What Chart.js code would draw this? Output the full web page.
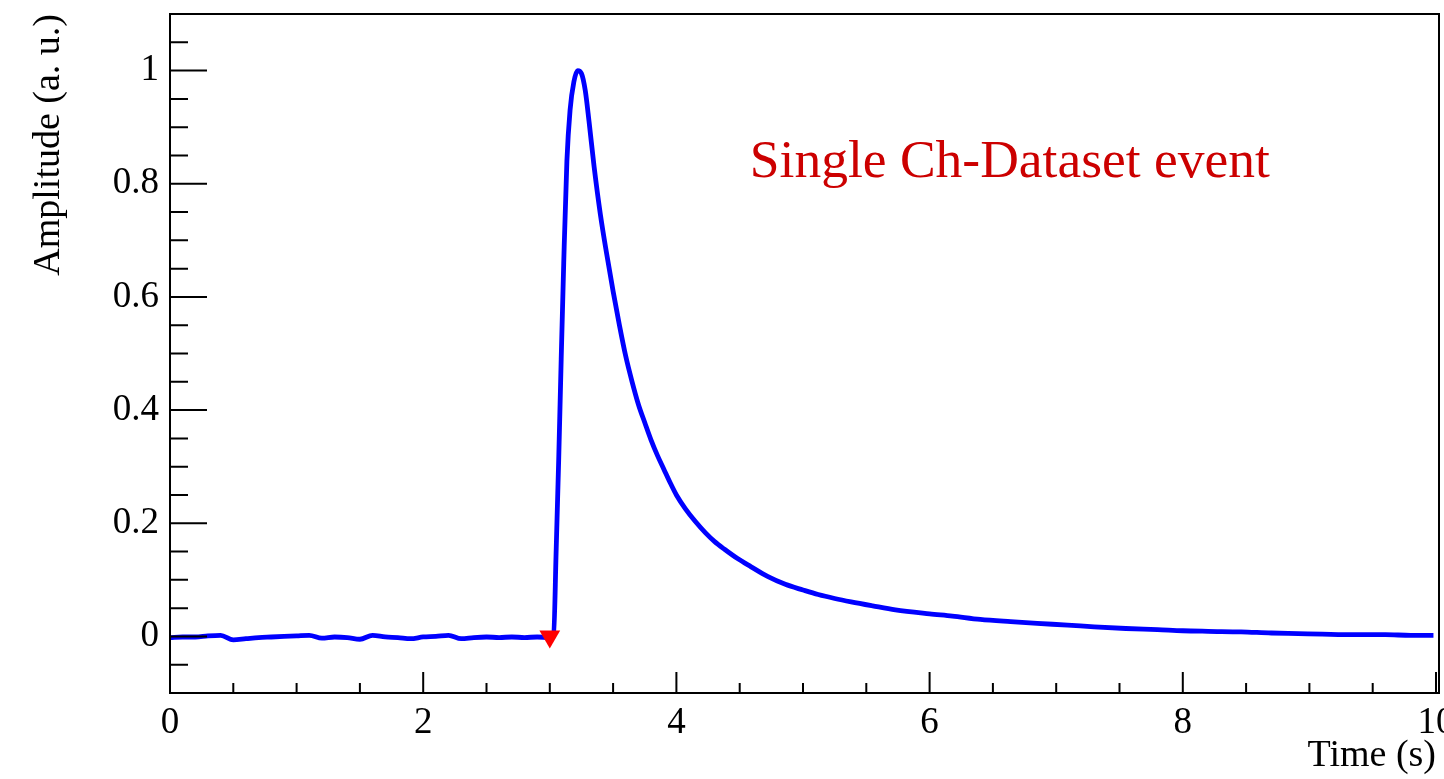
<!DOCTYPE html>
<html><head><meta charset="utf-8">
<script src="https://cdn.jsdelivr.net/npm/chart.js@4.4.1/dist/chart.umd.min.js"></script>
<style>html,body{margin:0;padding:0;background:#fff;overflow:hidden}#wrap{width:1444px;height:779px;position:relative}</style>
</head><body><div id="wrap"><canvas id="c" width="1444" height="779"></canvas></div>
<script>
// ---- data ----
const timeS = [0.0,0.1,0.2,0.3,0.4,0.5,0.6,0.7,0.8,0.9,1.0,1.1,1.2,1.3,1.4,1.5,1.6,1.7,1.8,1.9,2.0,2.1,2.2,2.3,2.4,2.5,2.6,2.7,2.8,2.9,3.0,3.03,
  3.05,3.07,3.09,3.11,3.135,3.16,3.19,3.22,3.25,3.28,3.31,3.35,3.40,3.45,3.50,3.55,3.60,3.65,3.70,3.75,3.80,3.85,3.90,3.95,4.00,
  4.07,4.15,4.23,4.30,4.38,4.48,4.59,4.72,4.86,5.00,5.12,5.25,5.38,5.55,5.73,
  6.0,6.18,6.4,6.64,6.85,7.09,7.3,7.55,7.8,8.0,8.2,8.46,8.7,8.91,9.1,9.36,9.6,9.8,9.98];
const amplitude = [-0.002,-0.001,-0.001,0.001,0.002,-0.006,-0.004,-0.002,-0.001,0.0,0.001,0.002,-0.003,-0.001,-0.002,-0.005,0.002,-0.001,-0.002,-0.004,-0.001,0.0,0.002,-0.004,-0.002,-0.001,-0.002,-0.001,-0.002,-0.001,-0.002,0.0,
  0.15,0.31,0.49,0.66,0.84,0.93,0.98,1.0,0.995,0.965,0.91,0.83,0.745,0.675,0.61,0.55,0.495,0.45,0.41,0.378,0.347,0.32,0.296,0.272,0.250,
  0.226,0.203,0.183,0.168,0.154,0.138,0.123,0.106,0.092,0.082,0.074,0.067,0.061,0.054,0.047,
  0.040,0.036,0.030,0.026,0.023,0.020,0.017,0.014,0.012,0.010,0.009,0.008,0.006,0.005,0.004,0.003,0.003,0.002,0.002];
const triggerTime = [3.0];
const triggerAmp = [0];
const xMajorTicks = [0,2,4,6,8,10];
const xMinorTicks = [0.5,1,1.5,2.5,3,3.5,4.5,5,5.5,6.5,7,7.5,8.5,9,9.5];
const yMajorTicks = [0,0.2,0.4,0.6,0.8,1.0];
const yMinorTicks = [-0.05,0.05,0.1,0.15,0.25,0.3,0.35,0.45,0.5,0.55,0.65,0.7,0.75,0.85,0.9,0.95,1.05];
const xTitle = 'Time (s)';
const yTitle = 'Amplitude (a. u.)';
const eventLabel = 'Single Ch-Dataset event';

const FONT = "'Liberation Serif','Times New Roman',serif";
const zeroPad = () => ({top: 0, left: 0, right: 0, bottom: 0});

const framePlugin = {
  id: 'rootFrame',
  afterDraw(chart) {
    const {ctx, chartArea: a, scales: {x, y}} = chart;
    ctx.save();
    ctx.strokeStyle = '#000';
    ctx.lineWidth = 2;
    ctx.beginPath();
    ctx.rect(a.left, a.top, a.right + 3 - a.left, a.bottom - a.top);
    ctx.stroke();
    ctx.beginPath();
    const xMaj = 21, xMin = 10, yMaj = 37, yMin = 18;
    xMajorTicks.forEach(v => { const p = x.getPixelForValue(v); ctx.moveTo(p, a.bottom); ctx.lineTo(p, a.bottom - xMaj); });
    xMinorTicks.forEach(v => { const p = x.getPixelForValue(v); ctx.moveTo(p, a.bottom); ctx.lineTo(p, a.bottom - xMin); });
    yMajorTicks.forEach(v => { const p = y.getPixelForValue(v); ctx.moveTo(a.left, p); ctx.lineTo(a.left + yMaj, p); });
    yMinorTicks.forEach(v => { const p = y.getPixelForValue(v); ctx.moveTo(a.left, p); ctx.lineTo(a.left + yMin, p); });
    ctx.stroke();
    ctx.fillStyle = '#cc0000';
    ctx.font = "53.5px " + FONT;
    ctx.textAlign = 'left';
    ctx.textBaseline = 'alphabetic';
    ctx.fillText(eventLabel, x.getPixelForValue(4.58), y.getPixelForValue(0.812));
    ctx.restore();
  }
};

const fmt = v => String(+Number(v).toFixed(2));

new Chart(document.getElementById('c'), {
  type: 'line',
  data: {
    datasets: [
      {
        label: 'trigger',
        data: triggerTime.map((t, i) => ({x: t, y: triggerAmp[i]})),
        showLine: false,
        pointStyle: 'triangle',
        rotation: 180,
        pointRadius: 12,
        pointBackgroundColor: '#ff0000',
        pointBorderColor: '#ff0000',
        borderWidth: 0
      },
      {
        label: 'waveform',
        data: timeS.map((t, i) => ({x: t, y: amplitude[i]})),
        borderColor: '#0000ff',
        borderWidth: 4.8,
        pointRadius: 0,
        cubicInterpolationMode: 'monotone',
        fill: false
      }
    ]
  },
  options: {
    responsive: false,
    animation: false,
    devicePixelRatio: 1,
    layout: {autoPadding: false, padding: {left: 0, top: 14, right: 8, bottom: 0}},
    plugins: {legend: {display: false}, tooltip: {enabled: false}},
    scales: {
      x: {
        type: 'linear', min: 0, max: 10,
        grid: {display: false, drawTicks: false},
        border: {display: false},
        afterBuildTicks: s => { s.ticks = xMajorTicks.map(v => ({value: v})); },
        afterFit: s => { s.height = 86; s.paddingLeft = 0; s.paddingRight = 0; s.getPadding = zeroPad; },
        ticks: {autoSkip: false, maxRotation: 0, padding: 8, color: '#000', font: {family: FONT, size: 37}, callback: v => fmt(v)},
        title: {display: true, text: xTitle, align: 'end', color: '#000', font: {family: FONT, size: 38}, padding: {top: 0, bottom: 0}}
      },
      y: {
        type: 'linear', min: -0.1, max: 1.1,
        grid: {display: false, drawTicks: false},
        border: {display: false},
        afterBuildTicks: s => { s.ticks = yMajorTicks.map(v => ({value: v})); },
        afterFit: s => { s.width = 170; s.paddingTop = 0; s.paddingBottom = 0; s.getPadding = zeroPad; },
        ticks: {autoSkip: false, padding: 11, color: '#000', font: {family: FONT, size: 37}, callback: v => fmt(v)},
        title: {display: true, text: yTitle, align: 'end', color: '#000', font: {family: FONT, size: 38}, padding: {top: 26, bottom: 0}}
      }
    }
  },
  plugins: [framePlugin]
});
</script></body></html>
